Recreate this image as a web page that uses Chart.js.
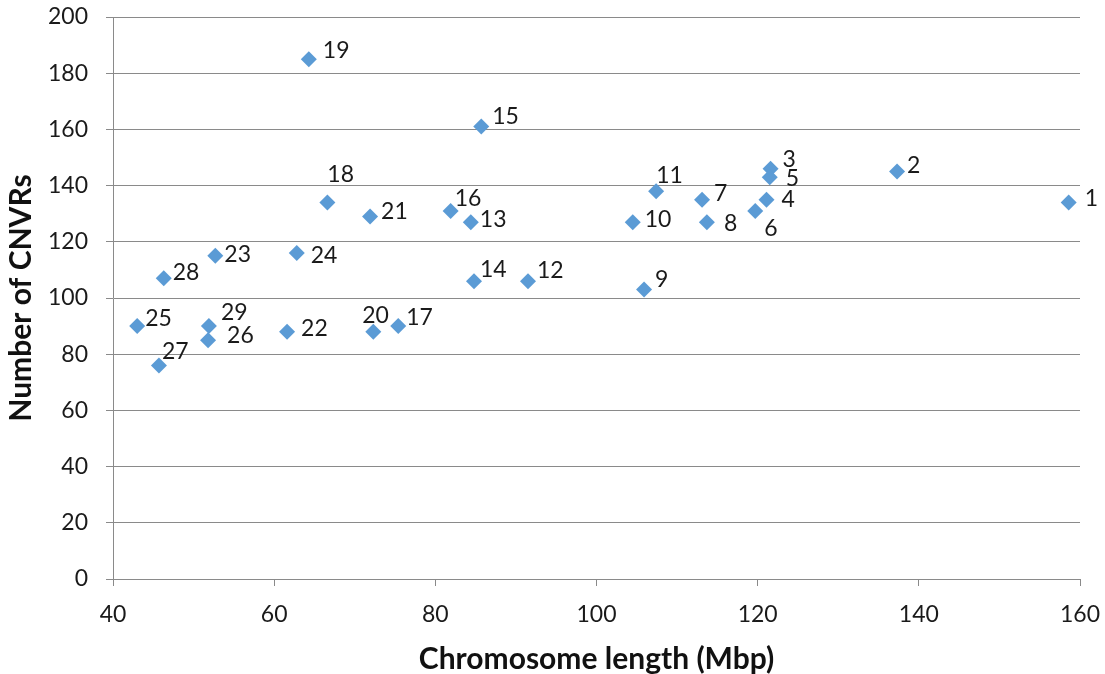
<!DOCTYPE html>
<html>
  <head>
    <meta charset="UTF-8">
    <title>CNVRs vs chromosome length</title>
    <script src="https://cdn.jsdelivr.net/npm/chart.js"></script>
    <style>
      html, body { margin: 0; padding: 0; background: #fff; }
    </style>
  </head>
  <body>
    <canvas id="cnvrChart" width="1105" height="674"></canvas>
    <script>
      // chromosome number, length (Mbp), number of CNVRs
      const chromosomes = ['1', '2', '3', '4', '5', '6', '7', '8', '9', '10',
        '11', '12', '13', '14', '15', '16', '17', '18', '19', '20',
        '21', '22', '23', '24', '25', '26', '27', '28', '29'];
      const lengthMbp = [158.6, 137.3, 121.6, 121.1, 121.5, 119.7, 113.1, 113.7, 105.9, 104.5,
        107.4, 91.5, 84.4, 84.8, 85.7, 81.9, 75.4, 66.6, 64.3, 72.3,
        71.9, 61.6, 52.7, 62.8, 43.0, 51.8, 45.7, 46.3, 51.9];
      const cnvrCount = [134, 145, 146, 135, 143, 131, 135, 127, 103, 127,
        138, 106, 127, 106, 161, 131, 90, 134, 185, 88,
        129, 88, 115, 116, 90, 85, 76, 107, 90];

      // where each number sits relative to its marker
      const labelOffsets = {
        '1': [16, -4], '2': [10, -6], '3': [12, -9], '4': [15, 0], '5': [16, 1],
        '6': [9, 18], '7': [12, -6], '8': [17, 1], '9': [11, -10], '10': [12, -3],
        '11': [0, -16], '12': [9, -11], '13': [9, -3], '14': [6, -12], '15': [11, -10],
        '16': [4, -12], '17': [8, -9], '18': [0, -28], '19': [14, -9], '20': [-11, -16],
        '21': [11, -5], '22': [14, -3], '23': [9, -1], '24': [14, 3], '25': [8, -8],
        '26': [19, -5], '27': [3, -14], '28': [9, -6], '29': [12, -14]
      };

      const pointLabels = {
        id: 'pointLabels',
        afterDatasetsDraw(chart) {
          const ctx = chart.ctx;
          const meta = chart.getDatasetMeta(0);
          ctx.save();
          ctx.font = '23px Lato';
          ctx.fillStyle = '#1a1a1a';
          ctx.textAlign = 'left';
          ctx.textBaseline = 'middle';
          meta.data.forEach((pt, i) => {
            const name = chromosomes[i];
            const off = labelOffsets[name] || [10, 0];
            ctx.fillText(name, pt.x + off[0], pt.y + off[1]);
          });
          ctx.restore();
        }
      };

      const gridGray = '#8a8a8a';

      new Chart(document.getElementById('cnvrChart'), {
        type: 'scatter',
        data: {
          datasets: [{
            data: lengthMbp.map((x, i) => ({ x: x, y: cnvrCount[i] })),
            pointStyle: 'rectRot',
            pointRadius: 8,
            pointHoverRadius: 8,
            backgroundColor: '#5B9BD5',
            borderColor: '#5B9BD5',
            borderWidth: 0
          }]
        },
        options: {
          responsive: false,
          animation: false,
          events: [],
          layout: { padding: { top: 17, right: 25, left: 0, bottom: 0 } },
          plugins: {
            legend: { display: false },
            tooltip: { enabled: false }
          },
          scales: {
            x: {
              type: 'linear',
              min: 40,
              max: 160,
              ticks: { stepSize: 20, color: '#1a1a1a', font: { family: 'Lato', size: 23 }, padding: 15 },
              grid: { drawOnChartArea: false, drawTicks: true, tickLength: 7, color: gridGray },
              border: { color: gridGray },
              title: {
                display: true,
                text: 'Chromosome length (Mbp)',
                color: '#111',
                font: { family: 'Lato', size: 30, weight: 'bold' },
                padding: { top: 0, bottom: -3 }
              },
              afterFit(scale) {
                scale.height = 95;
                scale.paddingLeft = 0;
                scale.paddingRight = 0;
              }
            },
            y: {
              min: 0,
              max: 200,
              ticks: { stepSize: 20, color: '#1a1a1a', font: { family: 'Lato', size: 23 }, padding: 18 },
              grid: { color: gridGray, tickLength: 7 },
              border: { color: gridGray },
              title: {
                display: true,
                text: 'Number of CNVRs',
                color: '#111',
                font: { family: 'Lato', size: 30, weight: 'bold' },
                padding: { top: 3, bottom: 0 }
              },
              afterFit(scale) {
                scale.width = 113;
                scale.paddingTop = 0;
                scale.paddingBottom = 0;
              }
            }
          }
        },
        plugins: [pointLabels]
      });
    </script>
  </body>
</html>
